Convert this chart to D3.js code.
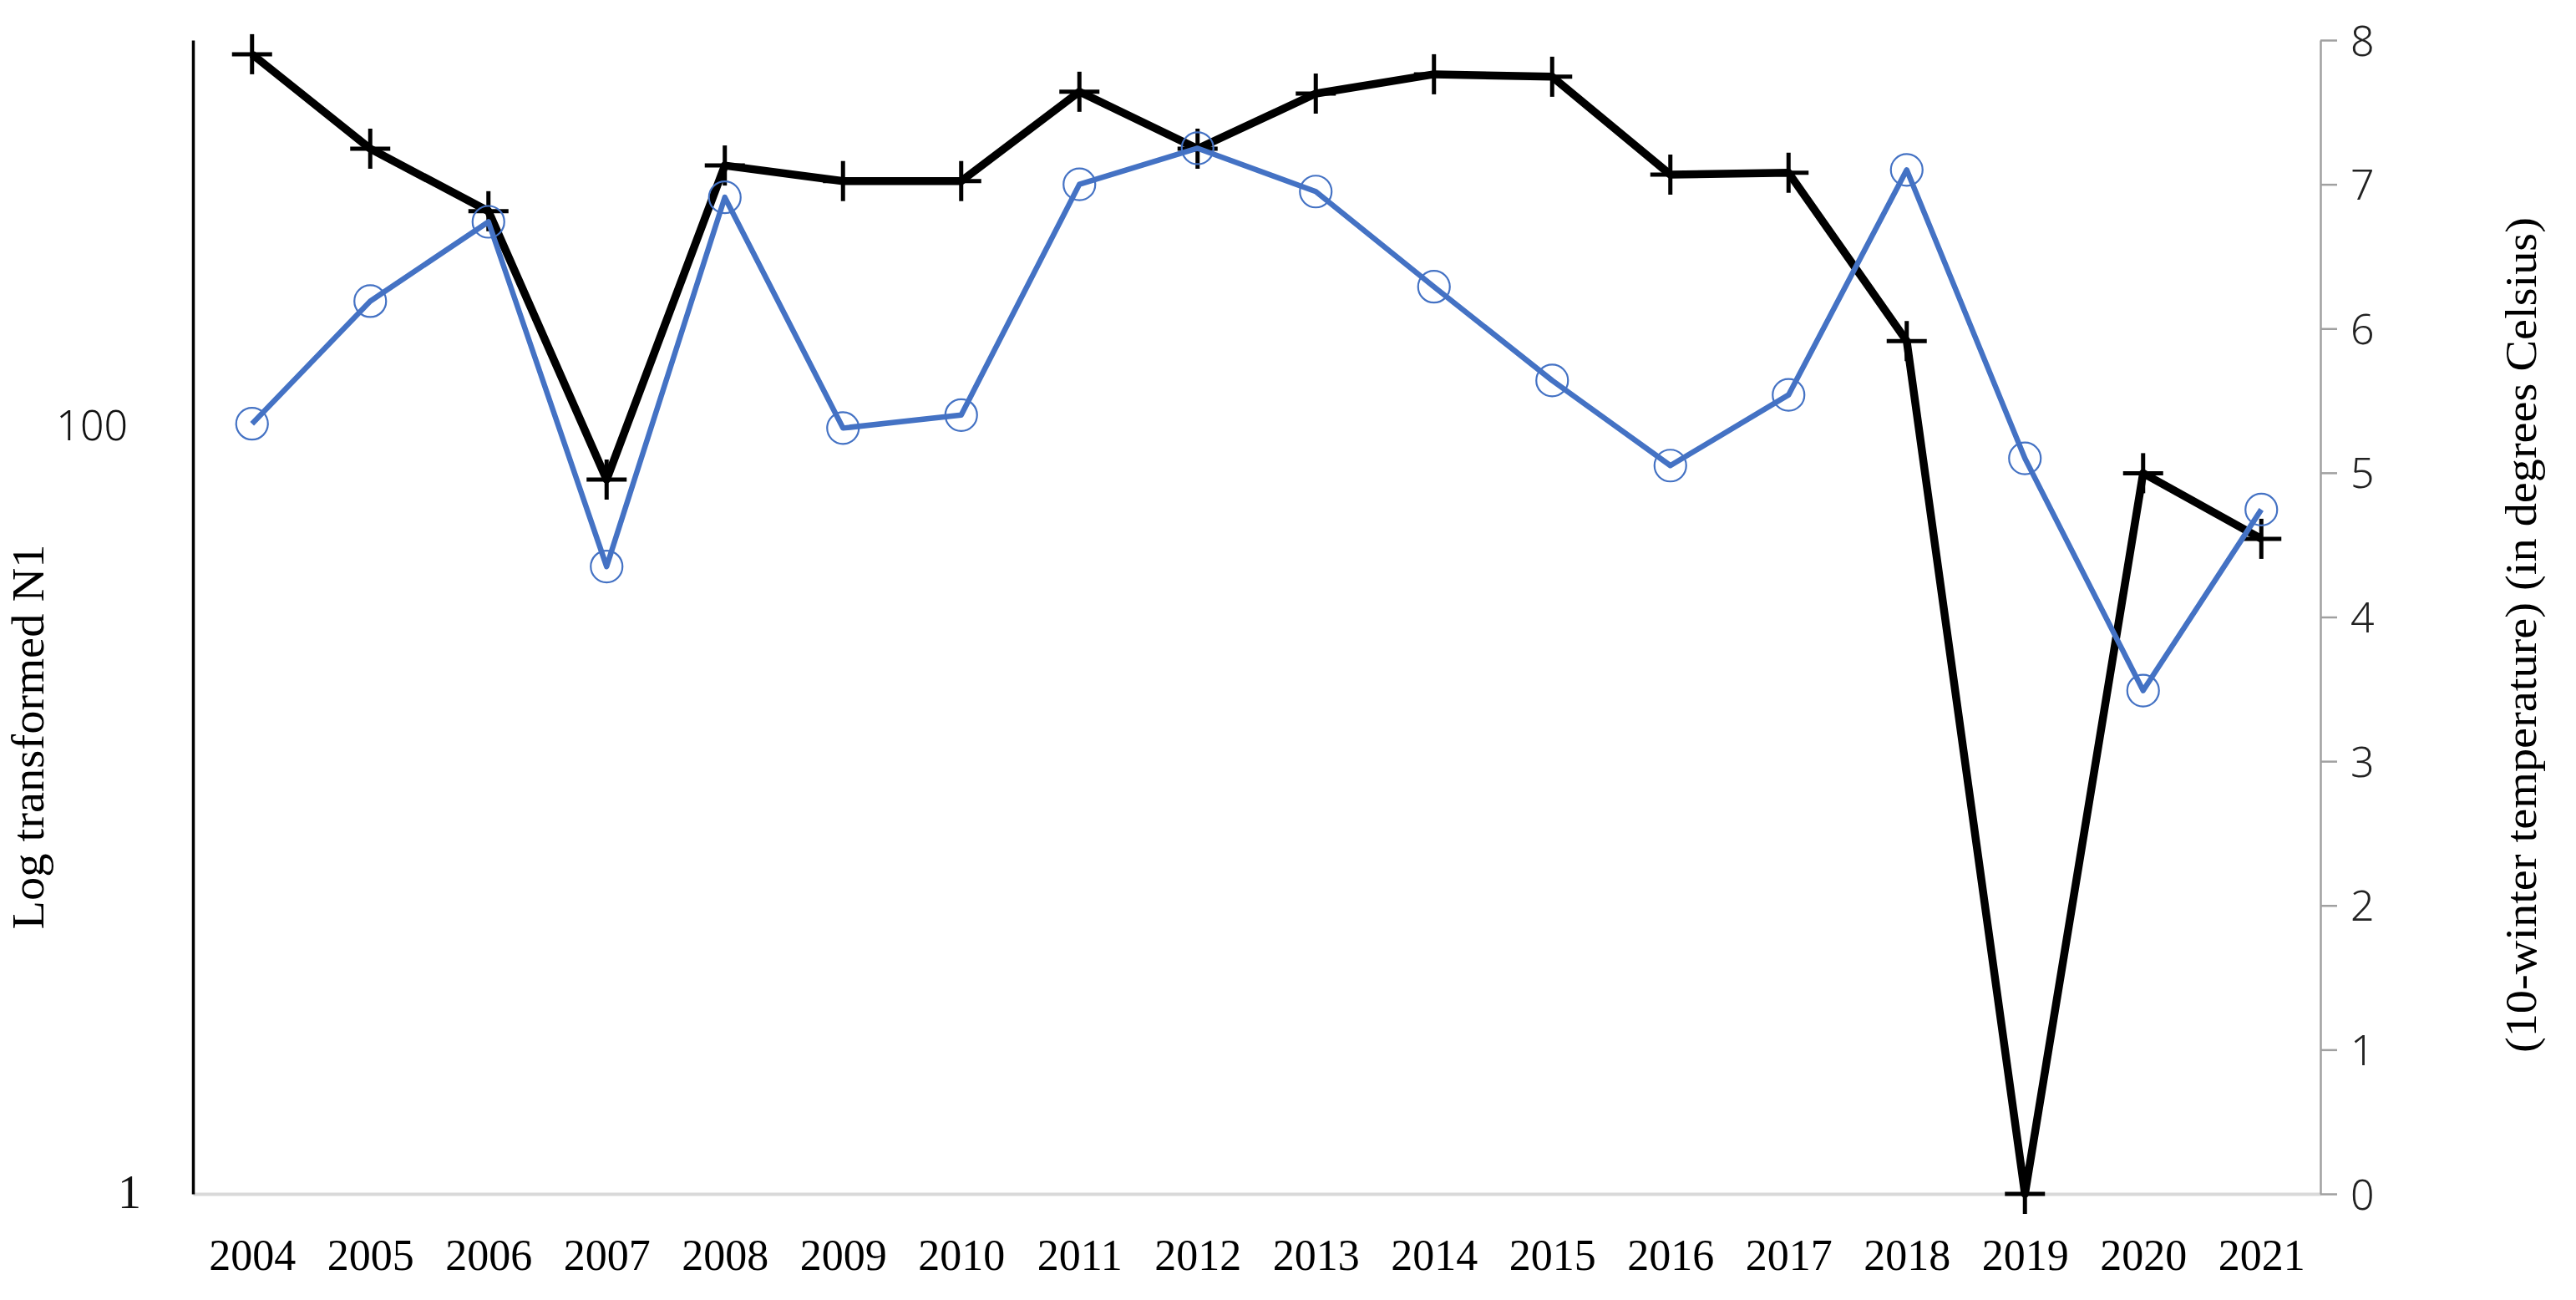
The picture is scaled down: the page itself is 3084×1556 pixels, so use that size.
<!DOCTYPE html>
<html>
<head>
<meta charset="utf-8">
<script src="https://cdn.jsdelivr.net/npm/d3@7/dist/d3.min.js"></script>
<style>
  html, body { margin: 0; padding: 0; background: #ffffff; }
  svg { display: block; }
</style>
</head>
<body>
<script>
// ---- data ----
const years = ["2004","2005","2006","2007","2008","2009","2010","2011","2012","2013","2014","2015","2016","2017","2018","2019","2020","2021"];
const n1Values = [919, 522, 359, 72, 472, 430, 430, 734, 522, 726, 815, 803, 447, 452, 165, 1, 74.8, 50.5];
const tempValues = [5.34, 6.19, 6.74, 4.35, 6.91, 5.31, 5.40, 7.00, 7.25, 6.95, 6.29, 5.64, 5.05, 5.54, 7.10, 5.10, 3.49, 4.745];
const leftTicks = [1, 100];
const rightTicks = [0, 1, 2, 3, 4, 5, 6, 7, 8];
const leftLabel = "Log transformed N1";
const rightLabel = "(10-winter temperature) (in degrees Celsius)";

// ---- layout ----
const W = 3084, H = 1556;
const x0 = 231, x1 = 2778, yTop = 48, yBot = 1429;
const serif = "'Liberation Serif', 'Times New Roman', serif";
const sans = "'Noto Sans', 'Liberation Sans', Arial, sans-serif";

const svg = d3.select("body").append("svg")
  .attr("width", W).attr("height", H)
  .style("background", "#ffffff");

const x = d3.scalePoint().domain(years).range([x0, x1]).padding(0.5);
const yL = d3.scaleLog().domain([1, 1000]).range([yBot, yTop]);
const yR = d3.scaleLinear().domain([0, 8]).range([yBot, yTop]);

// x axis
const gx = svg.append("g").attr("transform", `translate(0,${yBot})`)
  .call(d3.axisBottom(x).tickSize(0).tickSizeOuter(0));
gx.select(".domain").attr("stroke", "#d9d9d9").attr("stroke-width", 4);
gx.selectAll("text")
  .attr("y", 91).attr("dy", 0)
  .attr("font-family", serif).attr("font-size", 52).attr("fill", "#000");

// right axis
const gr = svg.append("g").attr("transform", `translate(${x1},0)`)
  .call(d3.axisRight(yR).tickValues(rightTicks).tickSize(20).tickSizeOuter(0).tickPadding(16).tickFormat(d3.format("d")));
gr.select(".domain").attr("stroke", "#a0a0a0").attr("stroke-width", 2.5);
gr.selectAll(".tick line").attr("stroke", "#a0a0a0").attr("stroke-width", 2.5);
gr.selectAll("text")
  .attr("font-family", sans).attr("font-weight", 300).attr("font-size", 50).attr("fill", "#222").attr("dy", "0.36em");

// left axis
const gl = svg.append("g").attr("transform", `translate(${x0},0)`)
  .call(d3.axisLeft(yL).tickValues(leftTicks).tickSize(0).tickSizeOuter(0).tickFormat(d3.format("d")));
gl.select(".domain").attr("stroke", "#000").attr("stroke-width", 3.5);
gl.selectAll(".tick text")
  .attr("fill", "#111")
  .attr("font-size", d => d === 1 ? 56 : 50)
  .attr("font-family", d => d === 1 ? serif : sans)
  .attr("font-weight", d => d === 1 ? 400 : 300)
  .attr("x", d => d === 1 ? -62 : -78)
  .attr("dy", d => d === 1 ? "0.3em" : "0.36em");

// axis titles
svg.append("text")
  .attr("transform", `translate(52,882) rotate(-90)`)
  .attr("text-anchor", "middle")
  .attr("font-family", serif).attr("font-size", 54).attr("fill", "#000")
  .attr("textLength", 461).attr("lengthAdjust", "spacingAndGlyphs")
  .text(leftLabel);

svg.append("text")
  .attr("transform", `translate(3036,760) rotate(-90)`)
  .attr("text-anchor", "middle")
  .attr("font-family", serif).attr("font-size", 53).attr("fill", "#000")
  .attr("textLength", 1000).attr("lengthAdjust", "spacingAndGlyphs")
  .text(rightLabel);

// black N1 series
const n1Data = years.map((yr, i) => ({yr, v: n1Values[i]}));
const tData = years.map((yr, i) => ({yr, v: tempValues[i]}));

svg.append("path")
  .datum(n1Data)
  .attr("fill", "none").attr("stroke", "#000").attr("stroke-width", 9.5)
  .attr("stroke-linejoin", "round")
  .attr("d", d3.line().x(d => x(d.yr)).y(d => yL(d.v)));

const cs = 24;
const crosses = svg.append("g").selectAll("g").data(n1Data).join("g")
  .attr("transform", d => `translate(${x(d.yr)},${yL(d.v)})`);
crosses.append("line").attr("x1", -cs).attr("x2", cs).attr("y1", 0).attr("y2", 0)
  .attr("stroke", "#000").attr("stroke-width", 5);
crosses.append("line").attr("x1", 0).attr("x2", 0).attr("y1", -cs).attr("y2", cs)
  .attr("stroke", "#000").attr("stroke-width", 5);

// blue temperature series
svg.append("path")
  .datum(tData)
  .attr("fill", "none").attr("stroke", "#4472c4").attr("stroke-width", 6.5)
  .attr("stroke-linejoin", "round")
  .attr("d", d3.line().x(d => x(d.yr)).y(d => yR(d.v)));

svg.append("g").selectAll("circle").data(tData).join("circle")
  .attr("cx", d => x(d.yr)).attr("cy", d => yR(d.v)).attr("r", 19)
  .attr("fill", "none").attr("stroke", "#4472c4").attr("stroke-width", 2.2);
</script>
</body>
</html>
